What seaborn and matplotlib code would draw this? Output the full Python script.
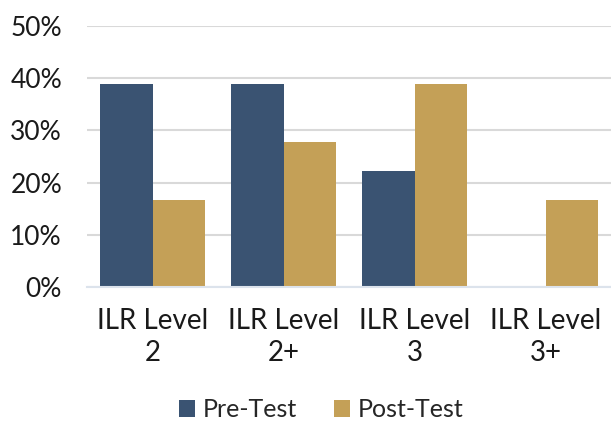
import matplotlib
matplotlib.use('Agg')
import matplotlib.pyplot as plt
import seaborn as sns
import pandas as pd
from matplotlib.ticker import PercentFormatter

# data
levels = ['ILR Level\n2', 'ILR Level\n2+', 'ILR Level\n3', 'ILR Level\n3+']
pre_test = [38.9, 38.9, 22.2, 0.0]
post_test = [16.7, 27.8, 38.9, 16.7]

df = pd.DataFrame({
    'level': levels * 2,
    'value': pre_test + post_test,
    'test': ['Pre-Test'] * 4 + ['Post-Test'] * 4,
})

sns.set_style('white')
plt.rcParams['font.family'] = ['Lato', 'DejaVu Sans']

fig = plt.figure(figsize=(6.11, 4.21), dpi=100)
ax = fig.add_axes([87 / 611, 1 - 287 / 421, 524 / 611, 261 / 421])

sns.barplot(data=df, x='level', y='value', hue='test', ax=ax,
            palette=['#3A5372', '#C4A057'], width=0.8, saturation=1,
            edgecolor='none')

ax.set_ylim(0, 50)
ax.set_xlim(-0.5, 3.5)
ax.set_yticks([0, 10, 20, 30, 40, 50])
ax.yaxis.set_major_formatter(PercentFormatter(decimals=0))
ax.grid(axis='y', color='#D9D9D9', linewidth=1.5)
ax.set_axisbelow(True)
for s in ['top', 'right', 'left']:
    ax.spines[s].set_visible(False)
ax.spines['bottom'].set_color('#DCE3EC')
ax.spines['bottom'].set_linewidth(1.5)
ax.tick_params(axis='both', length=0, colors='#1a1a1a')
ax.tick_params(axis='y', labelsize=19, pad=18)
ax.tick_params(axis='x', labelsize=20, pad=15)
for lbl in ax.get_xticklabels():
    lbl.set_linespacing(1.3)
ax.set_xlabel('')
ax.set_ylabel('')

ax.legend(loc='center', bbox_to_anchor=(0.447, -0.47), ncol=2, frameon=False,
          fontsize=18, handlelength=0.65, handleheight=0.65, handletextpad=0.3,
          columnspacing=1.5)

fig.savefig('out.png', dpi=100)
